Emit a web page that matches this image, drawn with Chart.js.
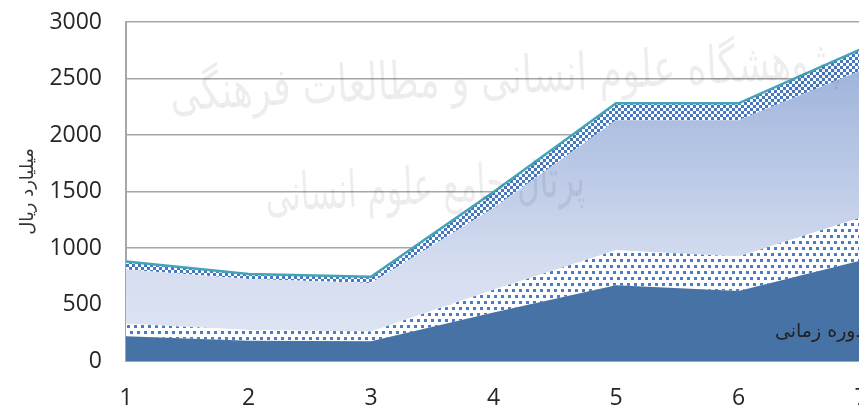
<!DOCTYPE html>
<html lang="fa">
<head>
    <meta charset="UTF-8">
    <title>نمودار سطحی</title>
    <script src="https://cdn.jsdelivr.net/npm/chart.js"></script>
    <style>
        body { margin: 0; background: #fff; overflow: hidden; }
        #wrap { width: 900px; height: 407px; }
    </style>
</head>
<body>
    <div id="wrap"><canvas id="chart" width="900" height="407"></canvas></div>

    <script>
        // داده‌ها (خوانده شده از تصویر)
        const categories = ['1', '2', '3', '4', '5', '6', '7'];
        const darkBase    = [220, 180, 175, 430, 670, 620, 890];
        const dottedBand  = [110,  95,  85, 200, 310, 305, 380];
        const lightBand   = [480, 450, 430, 725, 1150, 1205, 1300];
        const checkerBand = [ 70,  45,  55, 140, 150, 150, 190];
        const yTicks = [0, 500, 1000, 1500, 2000, 2500, 3000];

        const yTitle = 'میلیارد ریال';
        const xTitle = 'دوره زمانی';
        const watermark1 = 'پژوهشگاه علوم انسانی و مطالعات فرهنگی';
        const watermark2 = 'پرتال جامع علوم انسانی';

        // الگوهای هاشور
        function makeDots() {
            const c = document.createElement('canvas');
            c.width = 14; c.height = 12;
            const g = c.getContext('2d');
            g.fillStyle = '#ffffff';
            g.fillRect(0, 0, 14, 12);
            g.fillStyle = '#4a7cc4';
            [[1, 1], [8, 1], [4, 7], [11, 7]].forEach(p => g.fillRect(p[0], p[1], 3, 3));
            return g.createPattern(c, 'repeat');
        }
        function makeChecker() {
            const c = document.createElement('canvas');
            c.width = 6; c.height = 6;
            const g = c.getContext('2d');
            g.fillStyle = '#ffffff';
            g.fillRect(0, 0, 6, 6);
            g.fillStyle = '#4778be';
            g.fillRect(0, 0, 3, 3);
            g.fillRect(3, 3, 3, 3);
            return g.createPattern(c, 'repeat');
        }

        function lightGradient(ctx) {
            const chart = ctx.chart;
            const area = chart.chartArea;
            if (!area) return '#d5ddf0';
            const g = chart.ctx.createLinearGradient(0, area.bottom, 0, area.top + 30);
            g.addColorStop(0, '#e0e6f4');
            g.addColorStop(0.3, '#d5ddf0');
            g.addColorStop(1, '#9bb1da');
            return g;
        }

        // متن عنوان محور افقی و واترمارک
        const extraText = {
            id: 'extraText',
            afterDraw(chart) {
                const c = chart.ctx;
                c.save();
                c.direction = 'rtl';
                c.fillStyle = '#222';
                c.font = '19px "DejaVu Sans"';
                c.textAlign = 'right';
                c.textBaseline = 'middle';
                c.fillText(xTitle, 864, 332);

                c.fillStyle = 'rgba(0,0,0,0.07)';
                c.textAlign = 'center';
                c.font = '40px "DejaVu Sans"';
                let w = c.measureText(watermark1).width;
                c.translate(505, 80);
                c.rotate(-0.05);
                c.scale(670 / w, 1.3);
                c.fillText(watermark1, 0, 0);
                c.restore();

                c.save();
                c.direction = 'rtl';
                c.fillStyle = 'rgba(0,0,0,0.07)';
                c.textAlign = 'center';
                c.textBaseline = 'middle';
                c.font = '40px "DejaVu Sans"';
                w = c.measureText(watermark2).width;
                c.translate(425, 190);
                c.rotate(-0.05);
                c.scale(320 / w, 1.3);
                c.fillText(watermark2, 0, 0);
                c.restore();
            }
        };

        const tickFont = { family: '"Open Sans"', size: 23 };

        new Chart(document.getElementById('chart'), {
            type: 'line',
            data: {
                labels: categories,
                datasets: [
                    { data: darkBase, fill: 'origin', backgroundColor: '#4672a5', borderWidth: 0, pointRadius: 0, tension: 0 },
                    { data: dottedBand, fill: '-1', backgroundColor: makeDots(), borderWidth: 0, pointRadius: 0, tension: 0 },
                    { data: lightBand, fill: '-1', backgroundColor: lightGradient, borderWidth: 0, pointRadius: 0, tension: 0 },
                    { data: checkerBand, fill: '-1', backgroundColor: makeChecker(), borderColor: '#44a3b8', borderWidth: 2.5, pointRadius: 0, tension: 0 }
                ]
            },
            options: {
                responsive: false,
                animation: false,
                layout: { padding: { top: 22, right: 39, left: 0, bottom: 0 } },
                plugins: { legend: { display: false }, tooltip: { enabled: false } },
                scales: {
                    x: {
                        grid: { display: false },
                        border: { display: true, color: '#a6a6a6', width: 2 },
                        ticks: { font: tickFont, color: '#262626', padding: 16, maxRotation: 0, autoSkip: false },
                        afterFit(scale) { scale.height = 46; }
                    },
                    y: {
                        stacked: true,
                        min: 0,
                        max: 3000,
                        afterBuildTicks(scale) { scale.ticks = yTicks.map(v => ({ value: v })); },
                        grid: { color: '#a6a6a6', lineWidth: 1.5, drawTicks: true, tickLength: 20, tickColor: 'rgba(0,0,0,0)' },
                        border: { display: true, color: '#a6a6a6', width: 2 },
                        ticks: { font: tickFont, color: '#262626', padding: 4, callback: v => String(v) },
                        title: {
                            display: true,
                            text: yTitle,
                            color: '#333',
                            font: { family: '"DejaVu Sans"', size: 18 },
                            padding: { top: 18, bottom: 0 }
                        },
                        afterFit(scale) { scale.width = 126; }
                    }
                }
            },
            plugins: [extraText]
        });
    </script>
</body>
</html>
